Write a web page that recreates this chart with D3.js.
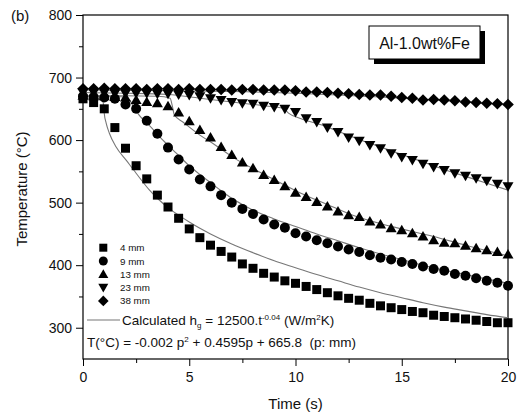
<!DOCTYPE html>
<html>
<head>
<meta charset="utf-8">
<script src="https://cdn.jsdelivr.net/npm/d3@7/dist/d3.min.js"></script>
<style>
  html, body { margin: 0; padding: 0; background: #fff; }
  svg { display: block; font-family: "Liberation Sans", Arial, sans-serif; }
</style>
</head>
<body>
<svg id="chart" width="517" height="417"></svg>
<script>
// Measured cooling curves, sampled every 0.5 s
const time = [0, 0.5, 1, 1.5, 2, 2.5, 3, 3.5, 4, 4.5, 5, 5.5, 6, 6.5, 7, 7.5, 8, 8.5, 9, 9.5,
              10, 10.5, 11, 11.5, 12, 12.5, 13, 13.5, 14, 14.5, 15, 15.5, 16, 16.5, 17, 17.5, 18, 18.5, 19, 19.5, 20];

const temp4mm = [666, 660, 650, 620, 587, 559, 538, 512, 493, 475, 458, 444, 432, 422, 413, 402, 395, 387, 381, 375,
                 371, 366, 361, 356, 351, 347, 344, 339, 335, 332, 329, 326, 324, 320, 318, 316, 314, 312, 310, 308, 308];
const temp9mm = [670, 669, 668, 666, 657, 650, 631, 610, 588, 569, 553, 537, 526, 512, 500, 490, 482, 473, 465, 460,
                 451, 446, 440, 435, 430, 425, 421, 416, 412, 409, 405, 402, 398, 394, 391, 386, 383, 379, 375, 372, 367];
const temp13mm = [671, 670, 670, 669, 668, 664, 661, 659, 654, 644, 630, 616, 604, 589, 576, 564, 555, 544, 536, 526,
                  516, 509, 501, 494, 486, 480, 477, 470, 465, 459, 456, 451, 446, 440, 436, 435, 431, 427, 424, 421, 417];
const temp23mm = [676, 676, 676, 675, 675, 675, 675, 674, 674, 673, 672, 670, 667, 664, 661, 659, 658, 655, 653, 650,
                  645, 635, 629, 620, 613, 604, 599, 592, 587, 579, 573, 568, 562, 557, 552, 547, 543, 539, 535, 530, 526];
const temp38mm = [682, 682, 683, 682, 682, 682, 681, 682, 682, 681, 682, 681, 681, 681, 680, 681, 681, 680, 680, 680,
                  679, 677, 677, 676, 675, 674, 673, 672, 672, 670, 668, 667, 664, 665, 664, 663, 661, 660, 659, 658, 657];

// Calculated curves (h_g = 12500 t^-0.04), as [time, temperature] pairs
const calc4mm = [[0, 667], [0.5, 667], [0.9, 665], [0.97, 655], [1.0, 643], [1.09, 627], [1.24, 611], [1.56, 589],
                 [2.03, 568], [2.5, 547], [3.13, 520], [3.5, 507], [4, 492], [4.5, 480], [5, 469], [5.5, 459],
                 [6, 450], [7, 434], [8, 420], [9, 407], [10, 396], [11, 385], [12, 375], [13, 365], [14, 356],
                 [15, 348], [16, 340], [17, 333], [18, 327], [19, 321], [20, 316]];
const calc9mm = [[0, 670], [1, 670], [2, 669], [2.2, 664], [2.35, 655], [2.66, 639], [3.13, 623], [3.76, 600],
                 [4.39, 579], [5, 559], [5.5, 545], [6, 532], [6.5, 519], [7, 507], [7.5, 497], [8, 488], [9, 474],
                 [10, 462], [11, 450], [12, 439], [13, 428], [14, 418], [15, 409], [16, 400], [17, 392], [18, 385],
                 [19, 378], [20, 371]];
const calc13mm = [[0, 671], [2, 671], [3.5, 670], [4.1, 667], [4.2, 655], [4.3, 640], [4.7, 629], [5.5, 608],
                  [6.1, 595], [7.08, 572], [8.65, 543], [10.2, 516], [11.5, 497], [12.6, 481], [14.5, 462],
                  [16.5, 446], [18, 432], [20, 415]];
const calc23mm = [[0, 676], [2, 675], [4, 673], [5.5, 667], [7, 661], [8, 657], [9, 653], [9.43, 651], [9.67, 643],
                  [10.2, 635], [11.5, 621], [12, 614], [13, 601], [14, 589], [15, 577], [16, 565], [17, 553],
                  [18, 542], [19, 531], [20, 520]];
const calc38mm = [[0, 680], [4, 679], [8, 677], [10, 675], [12, 672], [14, 669], [16, 665], [18, 661], [20, 656]];

const seriesNames = ["4 mm", "9 mm", "13 mm", "23 mm", "38 mm"];
const seriesShapes = ["square", "circle", "triangleUp", "triangleDown", "diamond"];

const xTicks = [0, 5, 10, 15, 20];
const xMinorTicks = [2.5, 7.5, 12.5, 17.5];
const yTicks = [300, 400, 500, 600, 700, 800];
const yMinorTicks = [350, 450, 550, 650, 750];

const svg = d3.select("#chart");
svg.append("rect").attr("width", 517).attr("height", 417).attr("fill", "#fff");

const margin = { left: 83, right: 9, top: 15, bottom: 58 };
const W = 517, H = 417;
const x = d3.scaleLinear().domain([0, 20]).range([margin.left, W - margin.right]);
const y = d3.scaleLinear().domain([250, 800]).range([H - margin.bottom, margin.top]);

// Marker path generators, centred on the origin
function shapePath(kind) {
  switch (kind) {
    case "square": return "M-4.5,-4.5H4.5V4.5H-4.5Z";
    case "circle": return "M5,0A5,5 0 1,1 -5,0A5,5 0 1,1 5,0Z";
    case "triangleUp": return "M0,-5.5L5.5,4L-5.5,4Z";
    case "triangleDown": return "M0,5.5L5.5,-4L-5.5,-4Z";
    case "diamond": return "M0,-5.8L5.8,0L0,5.8L-5.8,0Z";
  }
}
function legendPath(kind) {
  switch (kind) {
    case "square": return "M-4,-4H4V4H-4Z";
    case "circle": return "M4.5,0A4.5,4.5 0 1,1 -4.5,0A4.5,4.5 0 1,1 4.5,0Z";
    case "triangleUp": return "M0,-5L5,3.8L-5,3.8Z";
    case "triangleDown": return "M0,5L5,-3.8L-5,-3.8Z";
    case "diamond": return "M0,-5.3L5.3,0L0,5.3L-5.3,0Z";
  }
}

// Axes
const xAxis = d3.axisBottom(x).tickValues(xTicks).tickSize(7).tickPadding(6).tickFormat(d3.format("d"));
const xMinor = d3.axisBottom(x).tickValues(xMinorTicks).tickSize(4).tickFormat("");
const yAxis = d3.axisLeft(y).tickValues(yTicks).tickSize(7).tickPadding(4).tickFormat(d3.format("d"));
const yMinor = d3.axisLeft(y).tickValues(yMinorTicks).tickSize(4).tickFormat("");

function styleAxis(g) {
  g.select(".domain").remove();
  g.selectAll(".tick line").attr("stroke", "#000").attr("stroke-width", 1);
  g.selectAll(".tick text").attr("fill", "#111").style("font-size", "14px")
    .style("font-family", "'Liberation Sans', Arial, sans-serif");
}

svg.append("g").attr("transform", `translate(0,${y(250)})`).call(xAxis).call(styleAxis);
svg.append("g").attr("transform", `translate(0,${y(250)})`).call(xMinor).call(styleAxis);
svg.append("g").attr("transform", `translate(${x(0)},0)`).call(yAxis).call(styleAxis);
svg.append("g").attr("transform", `translate(${x(0)},0)`).call(yMinor).call(styleAxis);

// Plot frame
svg.append("rect")
  .attr("x", x(0)).attr("y", y(800))
  .attr("width", x(20) - x(0)).attr("height", y(250) - y(800))
  .attr("fill", "none").attr("stroke", "#000").attr("stroke-width", 1.2);

// Calculated curves
const line = d3.line().x(d => x(d[0])).y(d => y(d[1])).curve(d3.curveMonotoneX);
const calcSets = [calc4mm, calc9mm, calc13mm, calc23mm, calc38mm];
svg.append("g").selectAll("path").data(calcSets).join("path")
  .attr("d", line).attr("fill", "none").attr("stroke", "#777").attr("stroke-width", 1.1);

// Measured markers
const measured = [temp4mm, temp9mm, temp13mm, temp23mm, temp38mm];
measured.forEach((vals, i) => {
  svg.append("g").selectAll("path").data(vals).join("path")
    .attr("transform", (v, j) => `translate(${x(time[j])},${y(v)})`)
    .attr("d", shapePath(seriesShapes[i]))
    .attr("fill", "#000");
});

// Legend
const legend = svg.append("g");
seriesNames.forEach((name, i) => {
  const ly = 247.7 + i * 13.3;
  legend.append("path").attr("transform", `translate(103.3,${ly})`).attr("d", legendPath(seriesShapes[i])).attr("fill", "#000");
  legend.append("text").attr("x", 120).attr("y", ly + 3.5).style("font-size", "9.8px").attr("fill", "#111").text(name);
});
legend.append("line").attr("x1", 87).attr("x2", 120).attr("y1", 320).attr("y2", 320)
  .attr("stroke", "#777").attr("stroke-width", 1.1);
const calcText = legend.append("text").attr("x", 122).attr("y", 325).style("font-size", "13.5px").attr("fill", "#111");
calcText.append("tspan").text("Calculated h");
calcText.append("tspan").attr("dy", 3).style("font-size", "8px").text("g");
calcText.append("tspan").attr("dy", -3).text(" = 12500.t");
calcText.append("tspan").attr("dy", -5).style("font-size", "8px").text("-0.04");
calcText.append("tspan").attr("dy", 5).text(" (W/m");
calcText.append("tspan").attr("dy", -5).style("font-size", "8px").text("2");
calcText.append("tspan").attr("dy", 5).text("K)");

const fitText = legend.append("text").attr("x", 87).attr("y", 347).style("font-size", "13.5px").attr("fill", "#111")
  .attr("xml:space", "preserve");
fitText.append("tspan").text("T(°C) = -0.002 p");
fitText.append("tspan").attr("dy", -5).style("font-size", "8px").text("2");
fitText.append("tspan").attr("dy", 5).text(" + 0.4595p + 665.8  (p: mm)");

// Alloy label with drop shadow
svg.append("rect").attr("x", 374).attr("y", 31).attr("width", 111).attr("height", 33).attr("fill", "#000");
svg.append("rect").attr("x", 369).attr("y", 26).attr("width", 111).attr("height", 33)
  .attr("fill", "#fff").attr("stroke", "#000").attr("stroke-width", 1);
svg.append("text").attr("x", 424.5).attr("y", 48.5).attr("text-anchor", "middle")
  .style("font-size", "16px").attr("fill", "#111").text("Al-1.0wt%Fe");

// Panel tag and axis titles
svg.append("text").attr("x", 11).attr("y", 21).style("font-size", "15px").attr("fill", "#111").text("(b)");
svg.append("text").attr("transform", `translate(27,${(y(250) + y(800)) / 2 + 2}) rotate(-90)`)
  .attr("text-anchor", "middle").style("font-size", "15px").attr("fill", "#111").text("Temperature (°C)");
svg.append("text").attr("x", (x(0) + x(20)) / 2).attr("y", 409).attr("text-anchor", "middle")
  .style("font-size", "15px").attr("fill", "#111").text("Time (s)");
</script>
</body>
</html>
